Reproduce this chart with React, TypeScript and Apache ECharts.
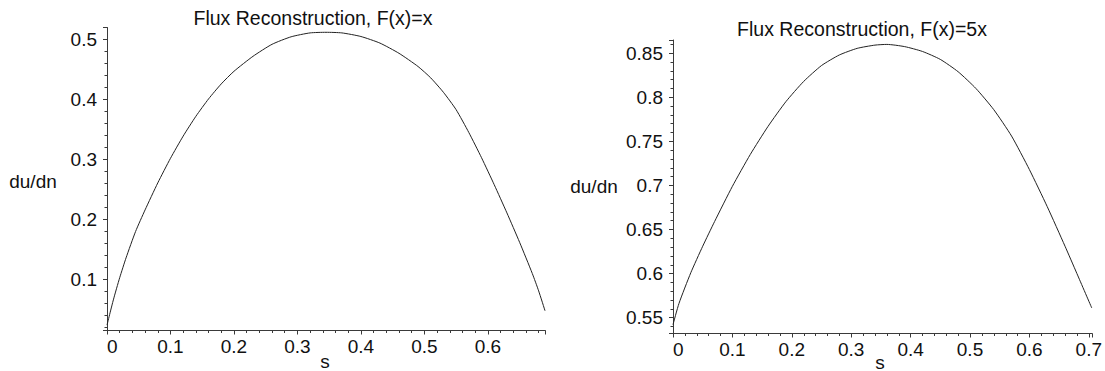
import React, { useEffect, useRef } from "react";
import * as echarts from "echarts";

// Left panel: F(x)=x
const leftS = [0, 0.01, 0.02, 0.03, 0.045, 0.06, 0.08, 0.1, 0.12, 0.14, 0.16, 0.18, 0.2, 0.23, 0.26, 0.29, 0.32, 0.345, 0.37, 0.4, 0.43, 0.46, 0.49, 0.51, 0.53, 0.55, 0.57, 0.59, 0.61, 0.63, 0.65, 0.67, 0.68, 0.69];
const leftDuDn = [0.024, 0.066, 0.103, 0.136, 0.18, 0.216, 0.261, 0.302, 0.339, 0.372, 0.401, 0.426, 0.447, 0.472, 0.492, 0.5045, 0.511, 0.512, 0.511, 0.505, 0.494, 0.477, 0.455, 0.436, 0.412, 0.383, 0.345, 0.303, 0.258, 0.211, 0.162, 0.11, 0.081, 0.048];

// Right panel: F(x)=5x
const rightS = [0, 0.01, 0.03, 0.05, 0.07, 0.1, 0.13, 0.16, 0.19, 0.22, 0.25, 0.28, 0.31, 0.34, 0.36, 0.39, 0.42, 0.45, 0.48, 0.51, 0.54, 0.57, 0.6, 0.63, 0.66, 0.68, 0.705];
const rightDuDn = [0.542, 0.566, 0.601, 0.631, 0.659, 0.699, 0.735, 0.767, 0.795, 0.818, 0.836, 0.848, 0.8555, 0.8592, 0.86, 0.8575, 0.852, 0.843, 0.829, 0.81, 0.786, 0.756, 0.718, 0.676, 0.631, 0.6, 0.561];

const titles = ["Flux Reconstruction, F(x)=x", "Flux Reconstruction, F(x)=5x"];
const yName = "du/dn";
const xName = "s";

const FONT = "Liberation Sans";
const TXT = "#111";
const AX = "#3a3a3a";

const isMult = (v: number, step: number) => Math.abs(v / step - Math.round(v / step)) < 1e-6;
const fmt = (v: number) => String(Number(v.toFixed(3)));

function App() {
  const ref = useRef<HTMLDivElement>(null);
  useEffect(() => {
    if (!ref.current) return;
    const chart = echarts.init(ref.current, undefined, { renderer: "svg" });

    const grids = [
      { left: 107, top: 27.5, width: 438, height: 303 },
      { left: 107, top: 27.5, width: 438, height: 303 },
      { left: 673, top: 40, width: 419, height: 293.5 },
      { left: 673, top: 40, width: 419, height: 293.5 },
    ];

    const labelStyle = { fontFamily: FONT, fontSize: 19, color: TXT };

    const majorX = (gridIndex: number, max: number) => ({
      type: "value",
      gridIndex,
      position: "bottom",
      min: 0,
      max,
      interval: 0.1,
      axisLine: { show: true, lineStyle: { color: AX, width: 1 } },
      axisTick: { show: true, length: 4, lineStyle: { color: AX } },
      axisLabel: {
        ...labelStyle,
        margin: 6,
        alignMinLabel: "left",
        formatter: (v: number) => (isMult(v, 0.1) ? fmt(v) : ""),
      },
      splitLine: { show: false },
    });
    const minorX = (gridIndex: number, max: number) => ({
      type: "value",
      gridIndex,
      position: "bottom",
      min: 0,
      max,
      interval: 0.02,
      axisLine: { show: false },
      axisTick: { show: true, length: 2.5, lineStyle: { color: AX } },
      axisLabel: { show: false },
      splitLine: { show: false },
    });
    const majorY = (gridIndex: number, min: number, max: number, split: number, step: number) => ({
      type: "value",
      gridIndex,
      position: "left",
      min,
      max,
      splitNumber: split,
      axisLine: { show: true, lineStyle: { color: AX, width: 1 } },
      axisTick: { show: true, length: 4, lineStyle: { color: AX } },
      axisLabel: {
        ...labelStyle,
        margin: 10,
        formatter: (v: number) => (isMult(v, step) ? fmt(v) : ""),
      },
      splitLine: { show: false },
    });
    const minorY = (gridIndex: number, min: number, max: number, split: number) => ({
      type: "value",
      gridIndex,
      position: "left",
      min,
      max,
      splitNumber: split,
      axisLine: { show: false },
      axisTick: { show: true, length: 2.5, lineStyle: { color: AX } },
      axisLabel: { show: false },
      splitLine: { show: false },
    });

    const textEl = (text: string, x: number, y: number, size: number) => ({
      type: "text",
      x,
      y,
      style: {
        text,
        fill: TXT,
        fontFamily: FONT,
        fontSize: size,
        align: "center",
        verticalAlign: "middle",
      },
    });

    chart.setOption({
      animation: false,
      backgroundColor: "#ffffff",
      grid: grids,
      xAxis: [majorX(0, 0.69), minorX(1, 0.69), majorX(2, 0.705), minorX(3, 0.705)],
      yAxis: [
        majorY(0, 0.015, 0.52, 5, 0.1),
        minorY(1, 0.015, 0.52, 25),
        majorY(2, 0.532, 0.865, 7, 0.05),
        minorY(3, 0.532, 0.865, 33),
      ],
      series: [
        {
          type: "line",
          xAxisIndex: 0,
          yAxisIndex: 0,
          data: leftS.map((s, i) => [s, leftDuDn[i]]),
          showSymbol: false,
          smooth: 0.2,
          lineStyle: { color: "#222", width: 1 },
        },
        {
          type: "line",
          xAxisIndex: 2,
          yAxisIndex: 2,
          data: rightS.map((s, i) => [s, rightDuDn[i]]),
          showSymbol: false,
          smooth: 0.2,
          lineStyle: { color: "#222", width: 1 },
        },
      ],
      graphic: [
        textEl(titles[0], 313, 18, 19.5),
        textEl(titles[1], 862, 29, 19.5),
        textEl(yName, 33, 181, 19),
        textEl(yName, 594, 186, 19),
        textEl(xName, 325, 361, 19),
        textEl(xName, 880, 362, 19),
      ],
    });
    return () => chart.dispose();
  }, []);
  return (
    <div
      ref={ref}
      style={{ position: "absolute", left: 0, top: 0, width: 1105, height: 371, background: "#fff" }}
    />
  );
}

export default App;
